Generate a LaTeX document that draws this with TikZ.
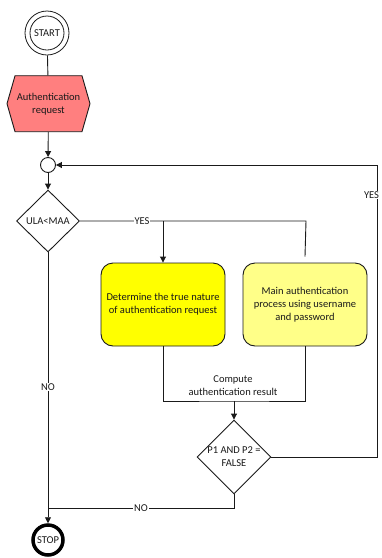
\documentclass[tikz,border=0pt]{standalone}
\usepackage{fontspec}
\setmainfont{Carlito}
\usetikzlibrary{arrows.meta,shapes.geometric,shapes.symbols}
\definecolor{salmon}{HTML}{FF7F7F}
\definecolor{ybright}{HTML}{FFFF00}
\definecolor{ypale}{HTML}{FFFF88}
\definecolor{ink}{HTML}{1A1A1A}
\begin{document}
\begin{tikzpicture}[x=1pt,y=-1pt,
  every node/.style={font=\fontsize{10.5}{13}\selectfont, text=ink},
  conn/.style={draw=ink, line width=0.9pt},
  arr/.style={conn, -{Triangle[length=6pt,width=6pt]}},
  box/.style={draw=ink, line width=0.9pt, rounded corners=12pt, minimum width=124pt, minimum height=83pt, align=center, inner sep=2pt},
  dia/.style={draw=ink, line width=0.9pt, diamond, fill=white, inner sep=0pt},
  lbl/.style={fill=white, inner sep=1pt}]
\fill[white] (0,0) rectangle (382,558);
\useasboundingbox (0,0) rectangle (382,558);

% start
\node[circle, draw=ink, line width=0.8pt, minimum size=44pt, inner sep=0pt] (start) at (47,33) {};
\node[circle, draw=ink, line width=0.8pt, minimum size=34pt, inner sep=0pt] (startin) at (47,33) {START};

% hexagon
\node[signal, signal to=west and east, signal pointer angle=148, draw=ink, line width=0.9pt, fill=salmon,
      minimum width=83pt, minimum height=56pt, inner sep=0pt, align=center] (req) at (48.5,103.7) {Authentication\\request};

% merge circle
\node[circle, draw=ink, line width=0.9pt, minimum size=15pt, inner sep=0pt, fill=white] (merge) at (48,165) {};

% decision ULA<MAA
\node[dia, minimum width=63pt, minimum height=62pt] (ula) at (48,221) {};
\node (ulat) at (48,221) {ULA<MAA};

% boxes
\node[box, fill=ybright] (det) at (163,304.5) {Determine the true nature\\of authentication request};
\node[box, fill=ypale] (main) at (305,304.5) {Main authentication\\process using username\\and password};

% decision P1 AND P2
\node[dia, minimum width=74pt, minimum height=74pt] (p1) at (234,457) {};
\node[align=center] (p1t) at (234,457) {P1 AND P2 =\\FALSE};

% stop
\node[circle, draw=black, line width=3.5pt, minimum size=30pt, inner sep=0pt, fill=white] (stop) at (48,540) {STOP};

% coordinates
\coordinate (jy) at (163,221);
\coordinate (jm) at (306,221);
\coordinate (cb) at (234,401);
\coordinate (lr) at (377,457);
\coordinate (ur) at (377,165);
\coordinate (nb) at (234,508);
\coordinate (nl) at (48,508);

% connectors
\draw[conn] (start) -- (req);
\draw[arr] (req) -- (merge);
\draw[arr] (merge) -- (ula);
\draw[conn] (ula.east) -- (jy) -- (jm) -- ([yshift=6pt]main.north);
\draw[arr] (jy) -- (det.north);
\draw[conn] (det.south) |- (cb) -| (main.south);
\draw[arr] (cb) -- (p1.north);
\draw[arr] (p1.east) -- (lr) -- (ur) -- (merge.east);
\draw[conn] (p1.south) -- (nb) -- (nl);
\draw[arr] (ula.south) -- (stop.north);

% labels
\node[lbl] (yes1) at (142,221) {YES};
\node[lbl, inner sep=0.5pt] (yes2) at (371.5,195) {YES};
\node[lbl] (no1) at (48,387) {NO};
\node[lbl] (no2) at (141,508) {NO};
\node[align=center] (comp) at (233,385.5) {Compute\\authentication result};
\end{tikzpicture}
\end{document}
